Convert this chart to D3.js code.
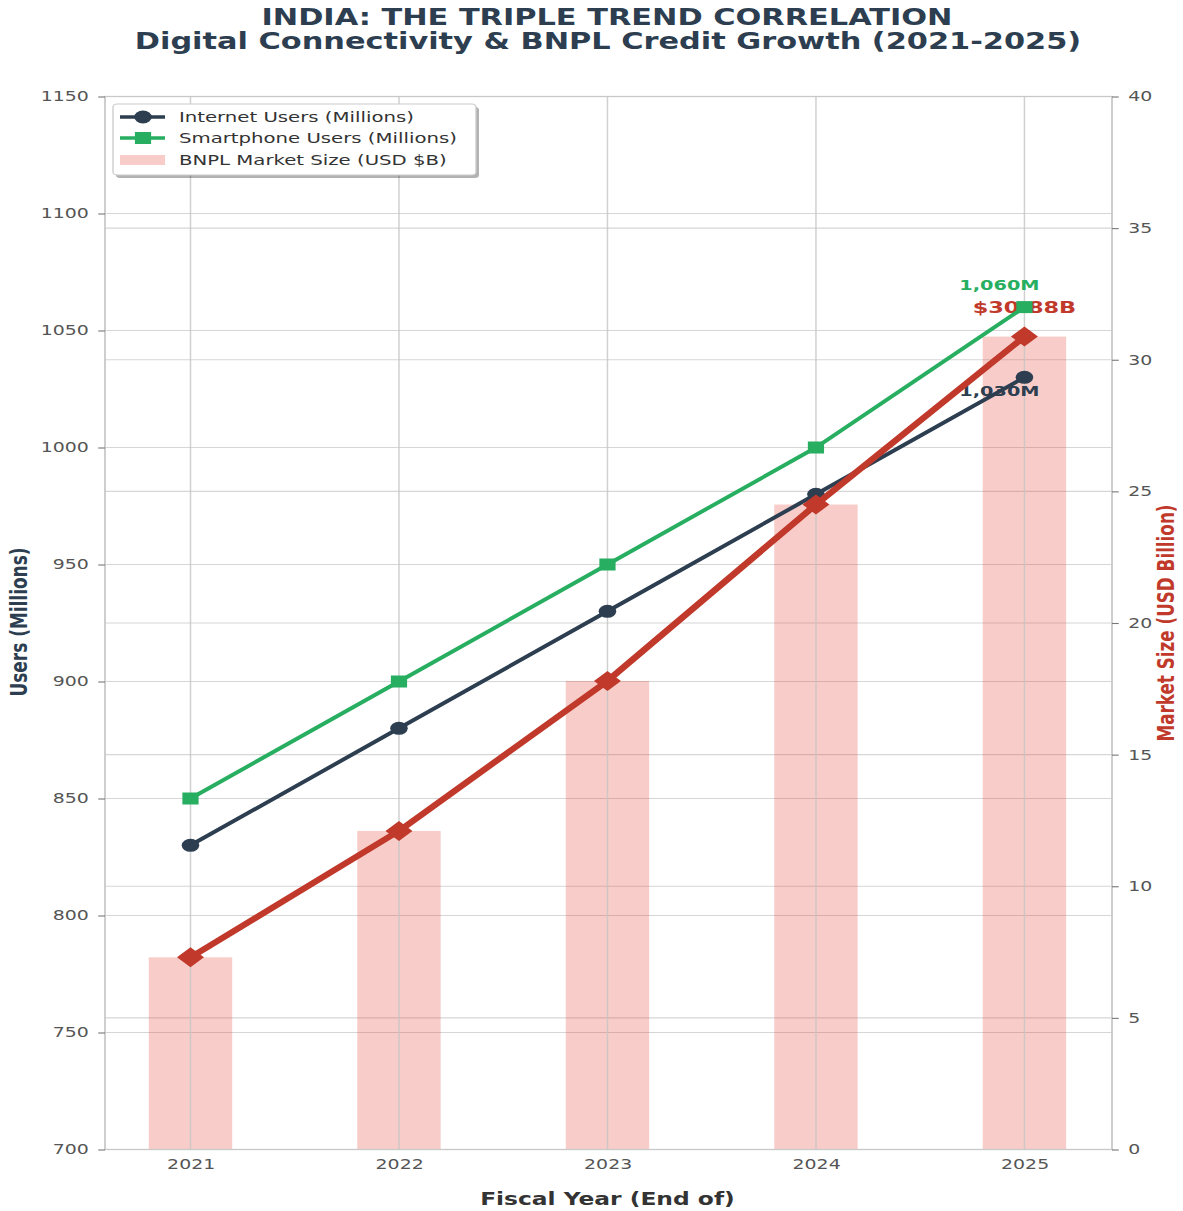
<!DOCTYPE html>
<html>
<head>
<meta charset="utf-8">
<script src="https://cdn.jsdelivr.net/npm/d3@7"></script>
<style>
  html, body { margin: 0; padding: 0; background: #ffffff; }
  svg { display: block; }
</style>
</head>
<body>
<div id="chart"></div>
<script>
// ---- Data ----
const years = [2021, 2022, 2023, 2024, 2025];
const internetUsers = [830, 880, 930, 980, 1030];
const smartphoneUsers = [850, 900, 950, 1000, 1060];
const bnplMarket = [7.3, 12.1, 17.8, 24.5, 30.88];
const leftTicks = [700, 750, 800, 850, 900, 950, 1000, 1050, 1100, 1150];
const rightTicks = [0, 5, 10, 15, 20, 25, 30, 35, 40];
const titleLines = ["INDIA: THE TRIPLE TREND CORRELATION", "Digital Connectivity & BNPL Credit Growth (2021-2025)"];
const legendLabels = ["Internet Users (Millions)", "Smartphone Users (Millions)", "BNPL Market Size (USD $B)"];

// ---- Layout ----
const PX_W = 1183, PX_H = 1211;
const SX = 1.35;                 // horizontal stretch of the reference picture
const W = PX_W / SX;             // internal width
const H = PX_H;
const plot = { left: 105 / SX, right: 1112 / SX, top: 96.5, bottom: 1149.5 };

const C = {
  dark: "#2c3e50", green: "#27ae60", red: "#c0392b", bar: "#e74c3c",
  grid: "#d6d6d6", spine: "#c8c8c8", tick: "#555555"
};
const FONT = "'DejaVu Sans', Verdana, sans-serif";

const svg = d3.select("#chart").append("svg")
  .attr("width", PX_W).attr("height", PX_H)
  .attr("viewBox", `0 0 ${W} ${H}`)
  .attr("preserveAspectRatio", "none")
  .style("font-family", FONT);

svg.append("rect").attr("width", W).attr("height", H).attr("fill", "#fff");

// ---- Scales ----
const x = d3.scaleLinear().domain([2020.59, 2025.42]).range([plot.left, plot.right]);
const yL = d3.scaleLinear().domain([700, 1150]).range([plot.bottom, plot.top]);
const yR = d3.scaleLinear().domain([0, 40]).range([plot.bottom, plot.top]);
const barW = x(2021.2) - x(2020.8);

// ---- Grid ----
const grid = svg.append("g");
grid.selectAll("line.gl").data(leftTicks).join("line")
  .attr("x1", plot.left).attr("x2", plot.right)
  .attr("y1", d => yL(d)).attr("y2", d => yL(d))
  .attr("stroke", C.grid).attr("stroke-width", 1.1);
grid.selectAll("line.gr").data(rightTicks).join("line").attr("class", "gr")
  .attr("x1", plot.left).attr("x2", plot.right)
  .attr("y1", d => yR(d)).attr("y2", d => yR(d))
  .attr("stroke", C.grid).attr("stroke-width", 1.1);

// ---- Bars ----
svg.append("g").selectAll("rect").data(years).join("rect")
  .attr("x", d => x(d) - barW / 2)
  .attr("width", barW)
  .attr("y", (d, i) => yR(bnplMarket[i]))
  .attr("height", (d, i) => yR(0) - yR(bnplMarket[i]))
  .attr("fill", C.bar).attr("fill-opacity", 0.28);

// vertical grid over bars
svg.append("g").selectAll("line").data(years).join("line")
  .attr("x1", d => x(d)).attr("x2", d => x(d))
  .attr("y1", plot.top).attr("y2", plot.bottom)
  .attr("stroke", "#c4c4c4").attr("stroke-opacity", 0.8).attr("stroke-width", 1.1);

// ---- Spines ----
svg.append("rect")
  .attr("x", plot.left).attr("y", plot.top)
  .attr("width", plot.right - plot.left).attr("height", plot.bottom - plot.top)
  .attr("fill", "none").attr("stroke", C.spine).attr("stroke-width", 1.3);

// ---- Axes ----
function styleAxis(g) {
  g.select(".domain").remove();
  g.selectAll(".tick line").attr("stroke", "#777").attr("stroke-width", 1.1);
  g.selectAll(".tick text").attr("fill", C.tick).style("font-family", FONT).style("font-size", "14px");
}
svg.append("g").attr("transform", `translate(${plot.left},0)`)
  .call(d3.axisLeft(yL).tickValues(leftTicks).tickSize(5).tickPadding(7).tickFormat(d3.format("d")))
  .call(styleAxis);
svg.append("g").attr("transform", `translate(${plot.right},0)`)
  .call(d3.axisRight(yR).tickValues(rightTicks).tickSize(5).tickPadding(7).tickFormat(d3.format("d")))
  .call(styleAxis);
svg.append("g").attr("transform", `translate(0,${plot.bottom})`)
  .call(d3.axisBottom(x).tickValues(years).tickSize(0).tickPadding(10).tickFormat(d3.format("d")))
  .call(styleAxis);

// ---- Axis labels ----
svg.append("text")
  .attr("x", x(2023)).attr("y", 1205)
  .attr("text-anchor", "middle")
  .attr("fill", "#333").attr("font-weight", "bold").attr("font-size", 17.3)
  .text("Fiscal Year (End of)");

svg.append("text")
  .attr("transform", `translate(${27 / SX},${622}) rotate(-90)`)
  .attr("text-anchor", "middle")
  .attr("fill", C.dark).attr("font-weight", "bold").attr("font-size", 16.5)
  .style("font-family", "'DejaVu Sans Condensed', 'DejaVu Sans', sans-serif")
  .attr("textLength", 149).attr("lengthAdjust", "spacingAndGlyphs")
  .text("Users (Millions)");

svg.append("text")
  .attr("transform", `translate(${1174 / SX},${623}) rotate(-90)`)
  .attr("text-anchor", "middle")
  .attr("fill", C.red).attr("font-weight", "bold").attr("font-size", 16.5)
  .style("font-family", "'DejaVu Sans Condensed', 'DejaVu Sans', sans-serif")
  .attr("textLength", 237).attr("lengthAdjust", "spacingAndGlyphs")
  .text("Market Size (USD Billion)");

// ---- Title ----
svg.append("text").attr("x", 607 / SX).attr("y", 25)
  .attr("text-anchor", "middle").attr("fill", C.dark)
  .attr("font-weight", "bold").attr("font-size", 22.5)
  .text(titleLines[0]);
svg.append("text").attr("x", 608 / SX).attr("y", 49)
  .attr("text-anchor", "middle").attr("fill", C.dark)
  .attr("font-weight", "bold").attr("font-size", 22.5)
  .text(titleLines[1]);

// ---- End value labels (drawn beneath lines) ----
const last = years.length - 1;
svg.append("text").attr("x", x(years[last]) - 25 / SX).attr("y", yL(smartphoneUsers[last]) - 17)
  .attr("text-anchor", "middle").attr("fill", C.green).attr("font-weight", "bold").attr("font-size", 14.3)
  .text(d3.format(",")(smartphoneUsers[last]) + "M");
svg.append("text").attr("x", x(years[last])).attr("y", yR(bnplMarket[last]) - 24)
  .attr("text-anchor", "middle").attr("fill", C.red).attr("font-weight", "bold").attr("font-size", 16.6)
  .text("$" + d3.format(".2f")(bnplMarket[last]) + "B");
svg.append("text").attr("x", x(years[last]) - 25 / SX).attr("y", yL(internetUsers[last]) + 19)
  .attr("text-anchor", "middle").attr("fill", C.dark).attr("font-weight", "bold").attr("font-size", 14.3)
  .text(d3.format(",")(internetUsers[last]) + "M");

// ---- Lines ----
const lineL = d3.line().x((d, i) => x(years[i])).y(d => yL(d));
const lineR = d3.line().x((d, i) => x(years[i])).y(d => yR(d));

svg.append("path").datum(internetUsers).attr("d", lineL)
  .attr("fill", "none").attr("stroke", C.dark).attr("stroke-width", 3.6).attr("stroke-linejoin", "round");
svg.append("g").selectAll("circle").data(internetUsers).join("circle")
  .attr("cx", (d, i) => x(years[i])).attr("cy", d => yL(d)).attr("r", 6.5).attr("fill", C.dark);

svg.append("path").datum(smartphoneUsers).attr("d", lineL)
  .attr("fill", "none").attr("stroke", C.green).attr("stroke-width", 3.6).attr("stroke-linejoin", "round");
svg.append("g").selectAll("rect").data(smartphoneUsers).join("rect")
  .attr("x", (d, i) => x(years[i]) - 6).attr("y", d => yL(d) - 6)
  .attr("width", 12).attr("height", 12).attr("fill", C.green);

svg.append("path").datum(bnplMarket).attr("d", lineR)
  .attr("fill", "none").attr("stroke", C.red).attr("stroke-width", 5.5).attr("stroke-linejoin", "round");
svg.append("g").selectAll("path").data(bnplMarket).join("path")
  .attr("d", d3.symbol().type(d3.symbolSquare).size(200))
  .attr("transform", (d, i) => `translate(${x(years[i])},${yR(d)}) rotate(45)`)
  .attr("fill", C.red);

// ---- Legend ----
const lg = svg.append("g");
const lx0 = 113 / SX, lx1 = 476 / SX, ly0 = 104, ly1 = 175;
lg.append("rect").attr("x", lx0 + 3 / SX).attr("y", ly0 + 3).attr("width", lx1 - lx0).attr("height", ly1 - ly0)
  .attr("rx", 3).attr("fill", "#000").attr("fill-opacity", 0.3);
lg.append("rect").attr("x", lx0).attr("y", ly0).attr("width", lx1 - lx0).attr("height", ly1 - ly0)
  .attr("rx", 3).attr("fill", "#fff").attr("stroke", "#cccccc").attr("stroke-width", 1);
const rowY = [117, 138, 160];
const hx0 = 120 / SX, hx1 = 165 / SX, hxm = 143 / SX, tx = 179 / SX;
// internet
lg.append("line").attr("x1", hx0).attr("x2", hx1).attr("y1", rowY[0]).attr("y2", rowY[0])
  .attr("stroke", C.dark).attr("stroke-width", 3.6);
lg.append("circle").attr("cx", hxm).attr("cy", rowY[0]).attr("r", 6.5).attr("fill", C.dark);
// smartphone
lg.append("line").attr("x1", hx0).attr("x2", hx1).attr("y1", rowY[1]).attr("y2", rowY[1])
  .attr("stroke", C.green).attr("stroke-width", 3.6);
lg.append("rect").attr("x", hxm - 6).attr("y", rowY[1] - 6).attr("width", 12).attr("height", 12).attr("fill", C.green);
// bnpl patch
lg.append("rect").attr("x", hx0).attr("y", rowY[2] - 5).attr("width", hx1 - hx0).attr("height", 10)
  .attr("fill", C.bar).attr("fill-opacity", 0.28);
lg.selectAll("text.lt").data(legendLabels).join("text").attr("class", "lt")
  .attr("x", tx).attr("y", (d, i) => rowY[i] + 5)
  .attr("fill", "#333").attr("font-size", 14.6)
  .text(d => d);
</script>
</body>
</html>
